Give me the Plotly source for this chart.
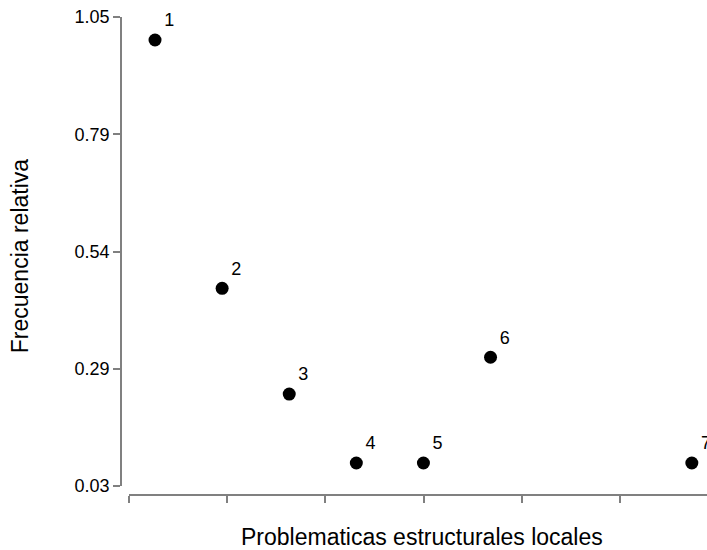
import plotly.graph_objects as go

# Relative frequency of each local structural problem (n = 13)
problem_ids = ["1", "2", "3", "4", "5", "6", "7"]
x_pos = [1, 2, 3, 4, 5, 6, 9]
rel_freq = [1.00, 0.46, 0.23, 0.08, 0.08, 0.31, 0.08]

y_tick_vals = [0.03, 0.285, 0.54, 0.795, 1.05]
y_tick_text = ["0.03", "0.29", "0.54", "0.79", "1.05"]

axis_grey = "#808080"
font_family = "Arial, Liberation Sans, sans-serif"

fig = go.Figure(
    go.Scatter(
        x=x_pos,
        y=rel_freq,
        mode="markers+text",
        text=problem_ids,
        textposition="top right",
        textfont=dict(family=font_family, size=18, color="black"),
        marker=dict(size=13, color="black"),
        cliponaxis=False,
        hoverinfo="skip",
    )
)

fig.update_layout(
    width=707,
    height=550,
    margin=dict(l=121, r=0, t=17, b=55),
    plot_bgcolor="white",
    paper_bgcolor="white",
    showlegend=False,
    font=dict(family=font_family, color="black"),
    xaxis=dict(
        domain=[0.0137, 1],
        range=[0.6125, 9.226],
        anchor="free",
        position=0,
        showgrid=False,
        zeroline=False,
        showline=True,
        linecolor=axis_grey,
        linewidth=1.5,
        ticks="outside",
        ticklen=7,
        tickcolor=axis_grey,
        tickwidth=1.5,
        tick0=0.6125,
        dtick=1.4635,
        showticklabels=False,
    ),
    yaxis=dict(
        domain=[0.0188, 1],
        range=[0.03, 1.05],
        anchor="free",
        position=0,
        showgrid=False,
        zeroline=False,
        showline=True,
        linecolor=axis_grey,
        linewidth=1.5,
        ticks="outside",
        ticklen=7,
        tickcolor=axis_grey,
        tickwidth=1.5,
        tickvals=y_tick_vals,
        ticktext=y_tick_text,
        tickfont=dict(family=font_family, size=18, color="black"),
    ),
    annotations=[
        dict(
            text="Problematicas estructurales locales",
            xref="paper", yref="paper",
            x=0.513, y=-0.088,
            xanchor="center", yanchor="middle",
            showarrow=False,
            font=dict(family=font_family, size=23, color="black"),
        ),
        dict(
            text="Frecuencia relativa",
            xref="paper", yref="paper",
            x=-0.172, y=0.5,
            xanchor="center", yanchor="middle",
            textangle=-90,
            showarrow=False,
            font=dict(family=font_family, size=23, color="black"),
        ),
    ],
)

fig.write_html("out.html")
